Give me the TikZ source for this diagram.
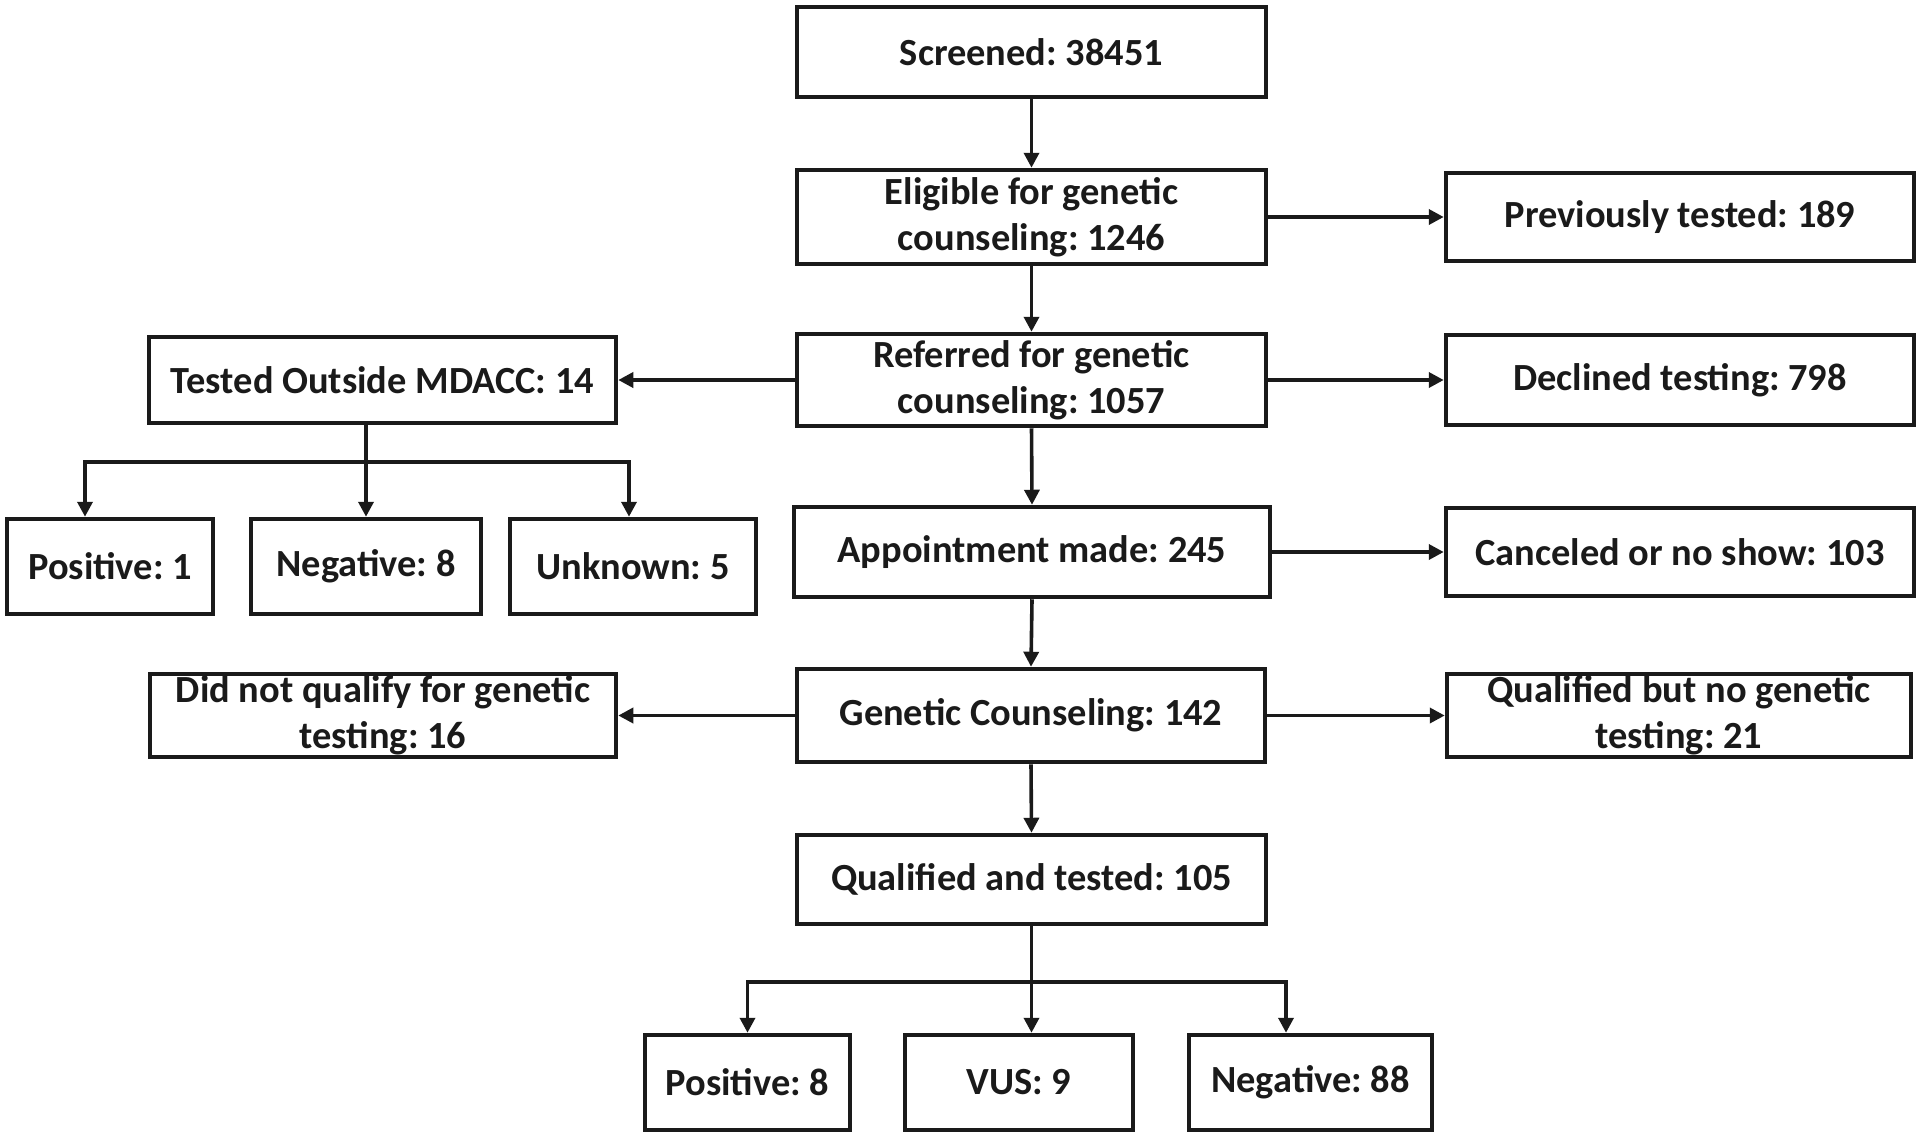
\documentclass[tikz,border=0pt]{standalone}
\usepackage{fontspec}
\setmainfont{Carlito}
\frenchspacing
\usetikzlibrary{arrows.meta}
\definecolor{ink}{RGB}{26,26,26}
\tikzset{
  box/.style={draw=ink, line width=2pt, inner sep=0pt, align=center,
    font=\fontsize{19.2pt}{23pt}\selectfont\bfseries\frenchspacing, text=ink},
  arr/.style={draw=ink, line width=1.8pt, -{Triangle[length=7.5pt,width=7.5pt]}},
  ln/.style={draw=ink, line width=1.8pt}
}
\begin{document}
\begin{tikzpicture}[x=0.5pt,y=-0.5pt]
\useasboundingbox (0,0) rectangle (1920,1136);
% boxes
\node[box, minimum width=234.75pt, minimum height=45.25pt] (scr) at (1031.5,52) {Screened: 38451};
\node[box, minimum width=234.75pt, minimum height=47.25pt] (elig) at (1031.5,217) {Eligible for genetic\\counseling: 1246};
\node[box, minimum width=234.25pt, minimum height=44.25pt] (prev) at (1680,217) {Previously tested: 189};
\node[box, minimum width=234.75pt, minimum height=46.25pt] (ref) at (1031.5,380) {Referred for genetic\\counseling: 1057};
\node[box, minimum width=233.75pt, minimum height=43.25pt] (tout) at (382.5,380) {Tested Outside MDACC: 14};
\node[box, minimum width=234.25pt, minimum height=45.25pt] (decl) at (1680,380) {Declined testing: 798};
\node[box, minimum width=103.25pt, minimum height=47.75pt] (pos1) at (110,566.5) {Positive: 1};
\node[box, minimum width=115.25pt, minimum height=47.75pt] (neg8) at (366,566.5) {Negative: 8};
\node[box, minimum width=123.25pt, minimum height=47.75pt] (unk5) at (633,566.5) {Unknown: 5};
\node[box, minimum width=238.25pt, minimum height=45.25pt] (appt) at (1032,552) {Appointment made: 245};
\node[box, minimum width=234.25pt, minimum height=44.25pt] (canc) at (1680,552) {Canceled or no show: 103};
\node[box, minimum width=233.25pt, minimum height=41.75pt] (dnq) at (383,715.5) {Did not qualify for genetic\\testing: 16};
\node[box, minimum width=234.25pt, minimum height=46.75pt] (gc) at (1031,715.5) {Genetic Counseling: 142};
\node[box, minimum width=232.25pt, minimum height=41.75pt] (qbn) at (1679,715.5) {Qualified but no genetic\\testing: 21};
\node[box, minimum width=234.75pt, minimum height=44.75pt] (qt) at (1031.5,879.5) {Qualified and tested: 105};
\node[box, minimum width=102.75pt, minimum height=47.75pt] (pos8) at (747.5,1082.5) {Positive: 8};
\node[box, minimum width=114.25pt, minimum height=47.75pt] (vus) at (1019,1082.5) {VUS: 9};
\node[box, minimum width=121.75pt, minimum height=47.75pt] (neg88) at (1310.5,1082.5) {Negative: 88};
% main flow
\draw[arr] (scr.south) -- (elig.north);
\draw[arr] (elig.east) -- (prev.west);
\draw[arr] (elig.south) -- (ref.north);
\draw[arr] (ref.west) -- (tout.east);
\draw[arr] (ref.east) -- (decl.west);
\draw[arr] (ref.south) -- (appt.north);
\draw[arr] (appt.east) -- (canc.west);
\draw[arr] (appt.south) -- (gc.north);
\draw[arr] (gc.west) -- (dnq.east);
\draw[arr] (gc.east) -- (qbn.west);
\draw[arr] (gc.south) -- (qt.north);
% tested outside branches
\coordinate (tl) at (85,462);
\coordinate (tb) at (366,462);
\coordinate (tr) at (629,462);
\draw[ln] (tout.south -| tb) -- (tb);
\draw[ln, line cap=rect] (tl) -- (tr);
\draw[arr] (tl) -- (tl |- pos1.north);
\draw[arr] (tb) -- (tb |- neg8.north);
\draw[arr] (tr) -- (tr |- unk5.north);
% tested branches
\coordinate (ql) at (747.5,982);
\coordinate (qb) at (1031.5,982);
\coordinate (qr) at (1286,982);
\draw[ln] (qt.south) -- (qb);
\draw[ln, line cap=rect] (ql) -- (qr);
\draw[arr] (ql) -- (pos8.north);
\draw[arr] (qb) -- (qb |- vus.north);
\draw[arr] (qr) -- (qr |- neg88.north);
\end{tikzpicture}
\end{document}
